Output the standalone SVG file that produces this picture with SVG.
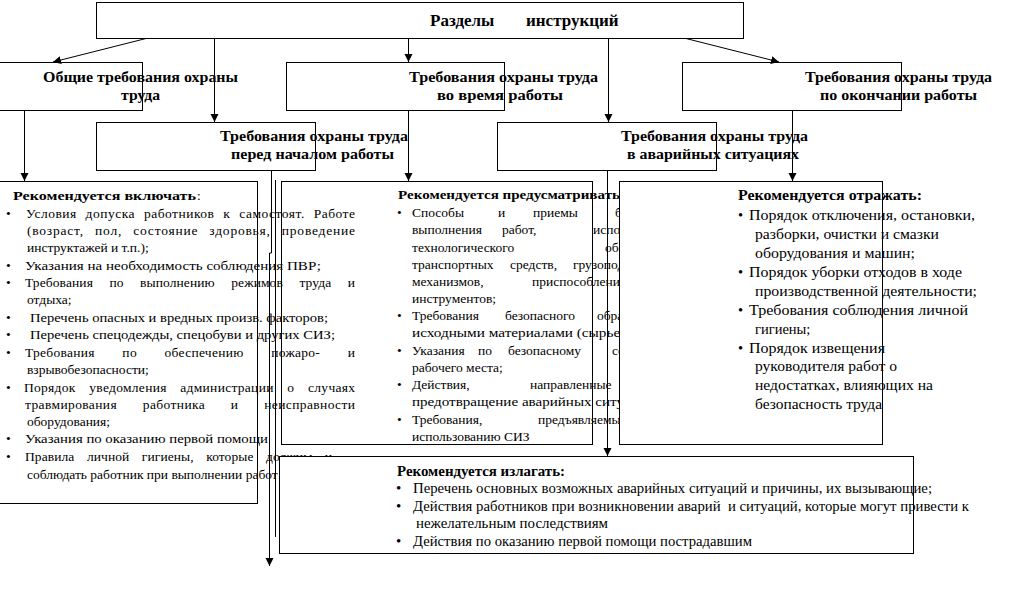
<svg xmlns="http://www.w3.org/2000/svg" width="1011" height="590" viewBox="0 0 1011 590">
<style>
.box{fill:#fff;stroke:#000;stroke-width:1}
.ln{fill:none;stroke:#000;stroke-width:1}
.h{font-family:"Liberation Serif","DejaVu Serif",serif;font-weight:bold;font-size:15px;fill:#000}
.ht{font-family:"Liberation Serif","DejaVu Serif",serif;font-weight:bold;font-size:17px;fill:#000}
.t{font-family:"Liberation Serif","DejaVu Serif",serif;font-size:13.5px;fill:#000}
.r{font-family:"Liberation Serif","DejaVu Serif",serif;font-size:14.5px;fill:#000}
.n{font-family:"Liberation Serif","DejaVu Serif",serif;font-size:15px;fill:#000}
.b{font-weight:bold}
</style>
<defs>
<marker id="ar" markerUnits="userSpaceOnUse" markerWidth="9" markerHeight="9" refX="8" refY="4" orient="auto">
<path d="M0,0 L8,4 L0,8 z" fill="#000"/>
</marker>
</defs>
<rect width="1011" height="590" fill="#fff"/>

<g id="top">
<rect class="box" x="96.5" y="2.5" width="647" height="36"/>
<text class="ht" y="26"><tspan x="430">Разделы</tspan><tspan x="526">инструкций</tspan></text>
</g>

<g id="general">
<rect class="box" x="-5.5" y="62.5" width="148" height="48"/>
<text class="h" x="43" y="82" textLength="195" lengthAdjust="spacingAndGlyphs">Общие требования охраны</text>
<text class="h" x="121" y="100" textLength="39" lengthAdjust="spacingAndGlyphs">труда</text>
</g>

<g id="during">
<rect class="box" x="286.5" y="62.5" width="218" height="48"/>
<text class="h" x="409" y="82" textLength="189" lengthAdjust="spacingAndGlyphs">Требования охраны труда</text>
<text class="h" x="437" y="100" textLength="126" lengthAdjust="spacingAndGlyphs">во время работы</text>
</g>

<g id="after">
<rect class="box" x="682.5" y="62.5" width="219" height="48"/>
<text class="h" x="805" y="82" textLength="187" lengthAdjust="spacingAndGlyphs">Требования охраны труда</text>
<text class="h" x="820" y="100" textLength="157" lengthAdjust="spacingAndGlyphs">по окончании работы</text>
</g>

<g id="before">
<rect class="box" x="96.5" y="122.5" width="219" height="48"/>
<text class="h" x="220" y="141" textLength="188" lengthAdjust="spacingAndGlyphs">Требования охраны труда</text>
<text class="h" x="231" y="159" textLength="163" lengthAdjust="spacingAndGlyphs">перед началом работы</text>
</g>

<g id="emergency">
<rect class="box" x="497.5" y="122.5" width="219" height="48"/>
<text class="h" x="621" y="141" textLength="187" lengthAdjust="spacingAndGlyphs">Требования охраны труда</text>
<text class="h" x="627" y="159" textLength="172" lengthAdjust="spacingAndGlyphs">в аварийных ситуациях</text>
</g>

<g id="during-details">
<rect class="box" x="281.5" y="181.5" width="311" height="263"/>
<text class="t b" x="398" y="199" textLength="222" lengthAdjust="spacingAndGlyphs">Рекомендуется предусматривать</text>
<g class="t">
<text x="397" y="217">•</text>
<text y="217"><tspan x="412">Способы</tspan><tspan x="498">и</tspan><tspan x="533">приемы</tspan><tspan x="615">безопасного</tspan></text>
<text y="234"><tspan x="412">выполнения</tspan><tspan x="502">работ,</tspan><tspan x="593">использования</tspan></text>
<text y="251.5"><tspan x="412">технологического</tspan><tspan x="605">оборудования,</tspan></text>
<text y="268.5"><tspan x="412">транспортных</tspan><tspan x="510">средств,</tspan><tspan x="573">грузоподъемных</tspan></text>
<text y="286"><tspan x="412">механизмов,</tspan><tspan x="532">приспособлений</tspan></text>
<text x="412" y="303">инструментов;</text>
<text x="397" y="320">•</text>
<text y="320"><tspan x="412">Требования</tspan><tspan x="505">безопасного</tspan><tspan x="597">обращения</tspan></text>
<text x="412" y="337" textLength="212" lengthAdjust="spacingAndGlyphs">исходными материалами (сырье.</text>
<text x="397" y="355">•</text>
<text y="355"><tspan x="412">Указания</tspan><tspan x="478">по</tspan><tspan x="508">безопасному</tspan><tspan x="612">содержанию</tspan></text>
<text x="412" y="372">рабочего места;</text>
<text x="397" y="389">•</text>
<text y="389"><tspan x="412">Действия,</tspan><tspan x="530">направленные</tspan></text>
<text x="412" y="406" textLength="212" lengthAdjust="spacingAndGlyphs">предотвращение аварийных ситу</text>
<text x="397" y="423.5">•</text>
<text y="423.5"><tspan x="412">Требования,</tspan><tspan x="538">предъявляемые</tspan></text>
<text x="412" y="441">использованию СИЗ</text>
</g>
</g>

<g id="general-details">
<rect class="box" x="-5.5" y="181.5" width="263" height="322"/>
<text class="t" y="200"><tspan class="b" x="13" textLength="183" lengthAdjust="spacingAndGlyphs">Рекомендуется включать</tspan><tspan x="197">:</tspan></text>
<g class="t">
<text x="6" y="218">•</text>
<text x="26" y="218" word-spacing="5" textLength="329" lengthAdjust="spacing">Условия допуска работников к самостоят. Работе</text>
<text x="27" y="235" word-spacing="7" textLength="328" lengthAdjust="spacing">(возраст, пол, состояние здоровья, проведение</text>
<text x="27" y="252">инструктажей и т.п.);</text>
<text x="6" y="270">•</text>
<text x="25" y="270" textLength="296" lengthAdjust="spacingAndGlyphs">Указания на необходимость соблюдения ПВР;</text>
<text x="6" y="287">•</text>
<text x="25" y="287" word-spacing="13" textLength="330" lengthAdjust="spacing">Требования по выполнению режимов труда и</text>
<text x="27" y="304">отдыха;</text>
<text x="6" y="322">•</text>
<text x="30" y="322" textLength="298" lengthAdjust="spacingAndGlyphs">Перечень опасных и вредных произв. факторов;</text>
<text x="6" y="339">•</text>
<text x="30" y="339" textLength="305" lengthAdjust="spacingAndGlyphs">Перечень спецодежды, спецобуви и других СИЗ;</text>
<text x="6" y="357">•</text>
<text x="25" y="357" word-spacing="24" textLength="330" lengthAdjust="spacing">Требования по обеспечению пожаро- и</text>
<text x="27" y="374">взрывобезопасности;</text>
<text x="6" y="392">•</text>
<text x="24" y="392" word-spacing="10" textLength="331" lengthAdjust="spacing">Порядок уведомления администрации о случаях</text>
<text x="25" y="409" word-spacing="22" textLength="330" lengthAdjust="spacing">травмирования работника и неисправности</text>
<text x="27" y="426">оборудования;</text>
<text x="6" y="443">•</text>
<text x="25" y="443" textLength="243" lengthAdjust="spacingAndGlyphs">Указания по оказанию первой помощи</text>
<text x="6" y="461">•</text>
<text x="25" y="461" word-spacing="9" textLength="307" lengthAdjust="spacing">Правила личной гигиены, которые должны и</text>
<text x="27" y="479">соблюдать работник при выполнении работ</text>
</g>
</g>

<g id="after-details">
<rect class="box" x="619.5" y="181.5" width="263" height="263"/>
<text class="h" x="738" y="200" textLength="184" lengthAdjust="spacingAndGlyphs">Рекомендуется отражать:</text>
<g class="r">
<text x="738" y="220">•</text>
<text x="749" y="220" textLength="226" lengthAdjust="spacingAndGlyphs">Порядок отключения, остановки,</text>
<text x="755" y="239" textLength="184" lengthAdjust="spacingAndGlyphs">разборки, очистки и смазки</text>
<text x="755" y="258" textLength="160" lengthAdjust="spacingAndGlyphs">оборудования и машин;</text>
<text x="738" y="277">•</text>
<text x="749" y="277" textLength="213" lengthAdjust="spacingAndGlyphs">Порядок уборки отходов в ходе</text>
<text x="755" y="296" textLength="222" lengthAdjust="spacingAndGlyphs">производственной деятельности;</text>
<text x="738" y="315">•</text>
<text x="749" y="315" textLength="219" lengthAdjust="spacingAndGlyphs">Требования соблюдения личной</text>
<text x="755" y="334">гигиены;</text>
<text x="738" y="353">•</text>
<text x="749" y="353" textLength="136" lengthAdjust="spacingAndGlyphs">Порядок извещения</text>
<text x="755" y="371" textLength="142" lengthAdjust="spacingAndGlyphs">руководителя работ о</text>
<text x="755" y="390" textLength="178" lengthAdjust="spacingAndGlyphs">недостатках, влияющих на</text>
<text x="755" y="409" textLength="127" lengthAdjust="spacingAndGlyphs">безопасность труда</text>
</g>
</g>

<g id="emergency-details">
<rect class="box" x="279.5" y="456.5" width="634" height="97"/>
<text class="n b" x="397" y="476" font-size="14" textLength="168" lengthAdjust="spacingAndGlyphs">Рекомендуется излагать:</text>
<g class="n">
<text x="396" y="493">•</text>
<text x="413" y="493" textLength="519" lengthAdjust="spacingAndGlyphs">Перечень основных возможных аварийных ситуаций и причины, их вызывающие;</text>
<text x="396" y="511">•</text>
<text x="413" y="511" textLength="556" lengthAdjust="spacingAndGlyphs">Действия работников при возникновении аварий&#160; и ситуаций, которые могут привести к</text>
<text x="416" y="528" textLength="192" lengthAdjust="spacingAndGlyphs">нежелательным последствиям</text>
<text x="396" y="546">•</text>
<text x="413" y="546" textLength="339" lengthAdjust="spacingAndGlyphs">Действия по оказанию первой помощи пострадавшим</text>
</g>
</g>

<g id="connectors" class="ln">
<path d="M146,38.5 L53,62" marker-end="url(#ar)"/>
<path d="M214.5,38.5 V122" marker-end="url(#ar)"/>
<path d="M408.5,38.5 V62" marker-end="url(#ar)"/>
<path d="M608.5,38.5 V122" marker-end="url(#ar)"/>
<path d="M686,38.5 L779,62" marker-end="url(#ar)"/>
<path d="M24.5,110.5 V181" marker-end="url(#ar)"/>
<path d="M408.5,110.5 V181" marker-end="url(#ar)"/>
<path d="M792.5,110.5 V181" marker-end="url(#ar)"/>
<path d="M607.5,170.5 V456" marker-end="url(#ar)"/>
<path d="M271.5,170.5 V253 H269.5 V566" marker-end="url(#ar)"/>
<path d="M275.5,180 V537"/>
</g>
</svg>
